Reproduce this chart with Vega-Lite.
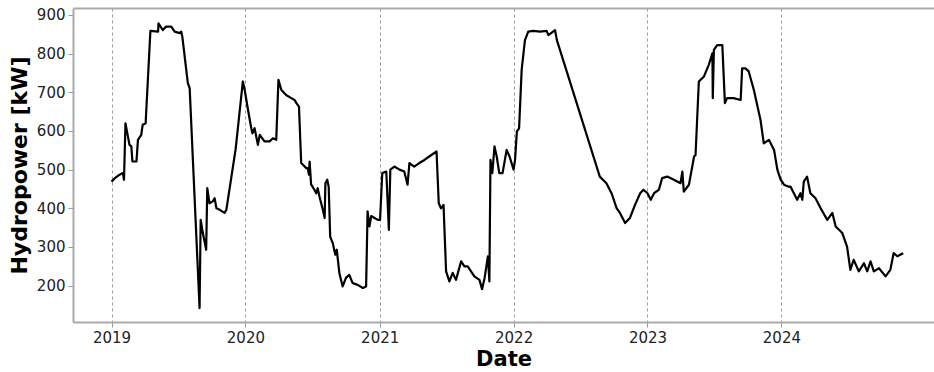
{
  "$schema": "https://vega.github.io/schema/vega-lite/v6.json",
  "autosize": "none",
  "width": 861,
  "height": 314,
  "padding": {"left": 73, "top": 8, "right": 0, "bottom": 50},
  "background": "white",
  "config": {
    "view": {"stroke": null},
    "font": "DejaVu Sans"
  },
  "data": {"values": [
    {"date":"2019-01-01","kW":469},{"date":"2019-01-10","kW":478},{"date":"2019-01-23","kW":487},{"date":"2019-02-01","kW":491},{"date":"2019-02-04","kW":474},
    {"date":"2019-02-08","kW":620},{"date":"2019-02-13","kW":594},{"date":"2019-02-19","kW":564},{"date":"2019-02-24","kW":560},{"date":"2019-02-27","kW":521},
    {"date":"2019-03-10","kW":521},{"date":"2019-03-14","kW":577},{"date":"2019-03-23","kW":590},{"date":"2019-03-27","kW":616},{"date":"2019-04-04","kW":620},
    {"date":"2019-04-17","kW":859},{"date":"2019-05-08","kW":857},{"date":"2019-05-09","kW":878},{"date":"2019-05-21","kW":861},{"date":"2019-05-30","kW":870},
    {"date":"2019-06-13","kW":870},{"date":"2019-06-22","kW":857},{"date":"2019-07-06","kW":853},{"date":"2019-07-10","kW":857},{"date":"2019-07-13","kW":844},
    {"date":"2019-07-28","kW":724},{"date":"2019-08-02","kW":711},{"date":"2019-08-29","kW":142},{"date":"2019-09-01","kW":370},{"date":"2019-09-07","kW":336},
    {"date":"2019-09-16","kW":293},{"date":"2019-09-19","kW":452},{"date":"2019-09-25","kW":413},{"date":"2019-10-04","kW":418},{"date":"2019-10-09","kW":426},
    {"date":"2019-10-14","kW":400},{"date":"2019-10-23","kW":396},{"date":"2019-11-05","kW":388},{"date":"2019-11-10","kW":396},{"date":"2019-12-05","kW":551},
    {"date":"2019-12-07","kW":568},{"date":"2019-12-25","kW":728},{"date":"2019-12-30","kW":706},
    {"date":"2020-01-08","kW":655},{"date":"2020-01-17","kW":607},{"date":"2020-01-20","kW":594},{"date":"2020-01-26","kW":607},{"date":"2020-02-04","kW":564},
    {"date":"2020-02-09","kW":590},{"date":"2020-02-22","kW":573},{"date":"2020-03-07","kW":573},{"date":"2020-03-16","kW":581},{"date":"2020-03-25","kW":577},
    {"date":"2020-03-31","kW":732},{"date":"2020-04-08","kW":706},{"date":"2020-04-21","kW":693},{"date":"2020-05-05","kW":685},{"date":"2020-05-14","kW":680},
    {"date":"2020-05-19","kW":672},{"date":"2020-05-26","kW":663},{"date":"2020-06-01","kW":517},{"date":"2020-06-15","kW":504},{"date":"2020-06-19","kW":504},
    {"date":"2020-06-22","kW":487},{"date":"2020-06-24","kW":521},{"date":"2020-06-28","kW":462},{"date":"2020-07-07","kW":448},{"date":"2020-07-12","kW":439},
    {"date":"2020-07-16","kW":452},{"date":"2020-07-21","kW":430},{"date":"2020-07-30","kW":396},{"date":"2020-08-04","kW":375},{"date":"2020-08-06","kW":465},
    {"date":"2020-08-11","kW":474},{"date":"2020-08-15","kW":456},{"date":"2020-08-19","kW":327},{"date":"2020-08-26","kW":310},{"date":"2020-09-02","kW":280},
    {"date":"2020-09-06","kW":293},{"date":"2020-09-13","kW":233},{"date":"2020-09-22","kW":198},{"date":"2020-10-01","kW":220},{"date":"2020-10-10","kW":228},
    {"date":"2020-10-19","kW":207},{"date":"2020-11-02","kW":202},{"date":"2020-11-16","kW":194},{"date":"2020-11-25","kW":198},{"date":"2020-11-29","kW":392},
    {"date":"2020-12-04","kW":353},{"date":"2020-12-09","kW":380},{"date":"2020-12-18","kW":375},{"date":"2020-12-27","kW":370},
    {"date":"2021-01-02","kW":370},{"date":"2021-01-08","kW":491},{"date":"2021-01-19","kW":495},{"date":"2021-01-26","kW":344},{"date":"2021-01-30","kW":500},
    {"date":"2021-02-10","kW":508},{"date":"2021-02-24","kW":500},{"date":"2021-03-09","kW":495},{"date":"2021-03-18","kW":461},{"date":"2021-03-23","kW":517},
    {"date":"2021-04-05","kW":508},{"date":"2021-04-19","kW":517},{"date":"2021-05-03","kW":525},{"date":"2021-05-16","kW":534},{"date":"2021-05-30","kW":543},
    {"date":"2021-06-05","kW":547},{"date":"2021-06-11","kW":413},{"date":"2021-06-17","kW":400},{"date":"2021-06-24","kW":409},{"date":"2021-07-01","kW":237},
    {"date":"2021-07-10","kW":211},{"date":"2021-07-19","kW":233},{"date":"2021-07-28","kW":215},{"date":"2021-08-11","kW":263},{"date":"2021-08-20","kW":250},
    {"date":"2021-08-29","kW":250},{"date":"2021-09-07","kW":237},{"date":"2021-09-16","kW":224},{"date":"2021-09-30","kW":215},{"date":"2021-10-07","kW":191},
    {"date":"2021-10-14","kW":220},{"date":"2021-10-23","kW":276},{"date":"2021-10-27","kW":211},{"date":"2021-10-30","kW":525},{"date":"2021-11-04","kW":491},
    {"date":"2021-11-10","kW":560},{"date":"2021-11-16","kW":534},{"date":"2021-11-23","kW":491},{"date":"2021-12-02","kW":491},{"date":"2021-12-13","kW":551},
    {"date":"2021-12-21","kW":534},
    {"date":"2022-01-01","kW":500},{"date":"2022-01-05","kW":525},{"date":"2022-01-10","kW":599},{"date":"2022-01-16","kW":607},{"date":"2022-01-23","kW":758},
    {"date":"2022-02-01","kW":835},{"date":"2022-02-10","kW":857},{"date":"2022-02-24","kW":859},{"date":"2022-03-14","kW":857},{"date":"2022-04-01","kW":859},
    {"date":"2022-04-06","kW":848},{"date":"2022-04-24","kW":861},{"date":"2022-04-29","kW":835},{"date":"2022-08-24","kW":482},{"date":"2022-09-11","kW":465},
    {"date":"2022-09-25","kW":439},{"date":"2022-10-09","kW":400},{"date":"2022-10-18","kW":388},{"date":"2022-11-01","kW":362},{"date":"2022-11-14","kW":375},
    {"date":"2022-11-28","kW":409},{"date":"2022-12-12","kW":439},{"date":"2022-12-21","kW":448},
    {"date":"2023-01-01","kW":439},{"date":"2023-01-10","kW":422},{"date":"2023-01-19","kW":439},{"date":"2023-02-01","kW":448},{"date":"2023-02-10","kW":478},
    {"date":"2023-02-24","kW":482},{"date":"2023-03-14","kW":474},{"date":"2023-04-01","kW":465},{"date":"2023-04-06","kW":495},{"date":"2023-04-10","kW":443},
    {"date":"2023-04-24","kW":461},{"date":"2023-05-08","kW":534},{"date":"2023-05-12","kW":538},{"date":"2023-05-21","kW":728},{"date":"2023-06-04","kW":741},
    {"date":"2023-06-17","kW":771},{"date":"2023-06-27","kW":801},{"date":"2023-06-28","kW":685},{"date":"2023-07-01","kW":810},{"date":"2023-07-10","kW":822},
    {"date":"2023-07-24","kW":822},{"date":"2023-07-31","kW":672},{"date":"2023-08-06","kW":685},{"date":"2023-08-24","kW":685},{"date":"2023-09-12","kW":680},
    {"date":"2023-09-16","kW":762},{"date":"2023-09-25","kW":762},{"date":"2023-10-04","kW":754},{"date":"2023-10-18","kW":706},{"date":"2023-11-01","kW":646},
    {"date":"2023-11-05","kW":629},{"date":"2023-11-14","kW":568},{"date":"2023-11-28","kW":577},{"date":"2023-12-12","kW":551},{"date":"2023-12-21","kW":500},
    {"date":"2023-12-30","kW":474},
    {"date":"2024-01-08","kW":461},{"date":"2024-01-21","kW":456},{"date":"2024-01-26","kW":456},{"date":"2024-02-13","kW":422},{"date":"2024-02-22","kW":439},
    {"date":"2024-02-27","kW":422},{"date":"2024-03-02","kW":469},{"date":"2024-03-11","kW":482},{"date":"2024-03-20","kW":439},{"date":"2024-04-03","kW":426},
    {"date":"2024-04-17","kW":400},{"date":"2024-05-05","kW":370},{"date":"2024-05-19","kW":388},{"date":"2024-05-28","kW":353},{"date":"2024-06-15","kW":336},
    {"date":"2024-06-28","kW":301},{"date":"2024-07-07","kW":241},{"date":"2024-07-16","kW":267},{"date":"2024-07-30","kW":237},{"date":"2024-08-13","kW":258},
    {"date":"2024-08-22","kW":237},{"date":"2024-08-31","kW":263},{"date":"2024-09-09","kW":237},{"date":"2024-09-23","kW":245},{"date":"2024-10-11","kW":224},
    {"date":"2024-10-24","kW":241},{"date":"2024-11-02","kW":284},{"date":"2024-11-12","kW":276},{"date":"2024-11-28","kW":284}
  ]},
  "encoding": {
    "x": {
      "field": "date", "type": "temporal",
      "scale": {"domain": ["2018-09-18", "2025-02-20"]}
    },
    "y": {
      "field": "kW", "type": "quantitative",
      "scale": {"domain": [106, 918], "nice": false, "zero": false}
    }
  },
  "layer": [
    {
      "mark": {"type": "line", "color": "black", "strokeWidth": 2.2, "strokeJoin": "round"},
      "encoding": {
        "x": {
          "field": "date", "type": "temporal",
          "axis": {
            "title": "Date",
            "values": ["2019-01-01", "2020-01-01", "2021-01-01", "2022-01-01", "2023-01-01", "2024-01-01"],
            "format": "%Y",
            "labelFontSize": 15, "labelColor": "#222", "labelPadding": 3,
            "titleFontSize": 21, "titleFontWeight": "bold", "titleColor": "black", "titlePadding": 3,
            "grid": true, "gridColor": "#999", "gridDash": [3, 3], "gridWidth": 1,
            "domainColor": "#aaa", "domainWidth": 2,
            "tickColor": "#999", "tickSize": 5, "tickWidth": 1
          }
        },
        "y": {
          "field": "kW", "type": "quantitative",
          "axis": {
            "title": "Hydropower [kW]",
            "values": [200, 300, 400, 500, 600, 700, 800, 900],
            "labelFontSize": 15, "labelColor": "#222", "labelPadding": 3,
            "titleFontSize": 22, "titleFontWeight": "bold", "titleColor": "black", "titlePadding": 5,
            "grid": false,
            "domainColor": "#aaa", "domainWidth": 2,
            "tickColor": "#999", "tickSize": 5, "tickWidth": 1
          }
        }
      }
    },
    {
      "mark": {"type": "line", "opacity": 0},
      "encoding": {
        "x": {
          "field": "date", "type": "temporal",
          "axis": {"orient": "top", "title": null, "labels": false, "ticks": false, "grid": false, "domainColor": "#aaa", "domainWidth": 2}
        },
        "y": {"field": "kW", "type": "quantitative", "axis": null}
      }
    }
  ],
  "resolve": {"axis": {"x": "independent", "y": "independent"}}
}
